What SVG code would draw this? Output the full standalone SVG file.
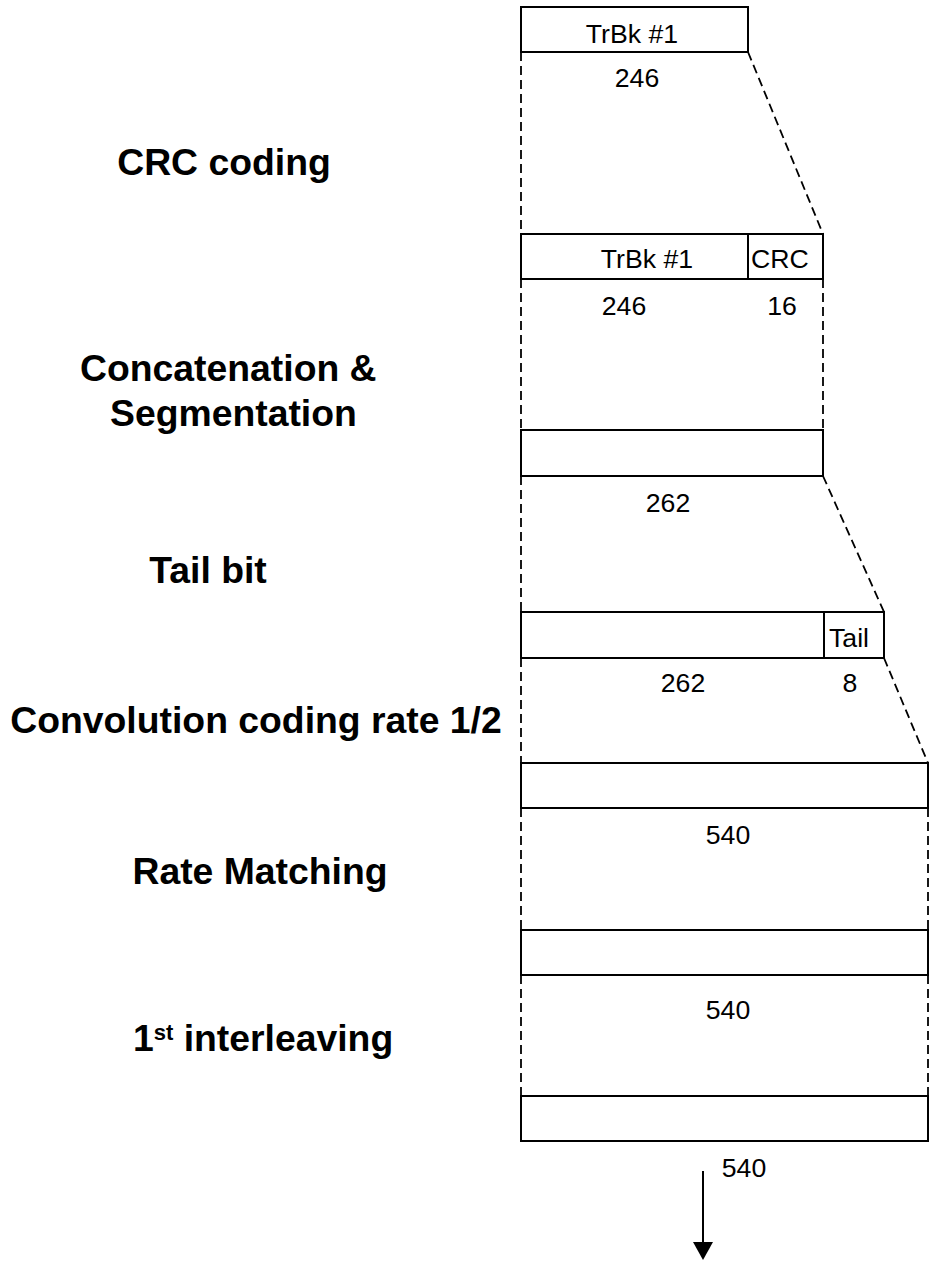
<svg xmlns="http://www.w3.org/2000/svg" width="930" height="1261" viewBox="0 0 930 1261">
<style>
.box{fill:#fff;stroke:#000;stroke-width:2}
.div{stroke:#000;stroke-width:2}
.dash{fill:none;stroke:#000;stroke-width:1.8;stroke-dasharray:9 5}
.t{font-family:"Liberation Sans",Arial,sans-serif;font-size:26.67px;fill:#000}
.lbl{font-family:"Liberation Sans",Arial,sans-serif;font-size:37.33px;font-weight:bold;fill:#000}
.m{text-anchor:middle}
</style>
<g id="connectors">
<line class="dash" x1="521" y1="52" x2="521" y2="234"/>
<line class="dash" x1="748" y1="52" x2="823" y2="234"/>
<line class="dash" x1="521" y1="279" x2="521" y2="430"/>
<line class="dash" x1="823" y1="279" x2="823" y2="430"/>
<line class="dash" x1="521" y1="476" x2="521" y2="612"/>
<line class="dash" x1="823" y1="476" x2="884" y2="612"/>
<line class="dash" x1="521" y1="658" x2="521" y2="763"/>
<line class="dash" x1="884" y1="658" x2="928" y2="763"/>
<line class="dash" x1="521" y1="808" x2="521" y2="930"/>
<line class="dash" x1="928" y1="808" x2="928" y2="930"/>
<line class="dash" x1="521" y1="975" x2="521" y2="1096"/>
<line class="dash" x1="928" y1="975" x2="928" y2="1096"/>
<line x1="703" y1="1171" x2="703" y2="1244" stroke="#000" stroke-width="2"/>
<path d="M693,1242 L713,1242 L703,1260 Z" fill="#000"/>
</g>
<g id="labels">
<text class="lbl m" x="224" y="175">CRC coding</text>
<text class="lbl" x="80" y="381">Concatenation &amp;</text>
<text class="lbl" x="110" y="426">Segmentation</text>
<text class="lbl m" x="208" y="583">Tail bit</text>
<text class="lbl m" x="256" y="733">Convolution coding rate 1/2</text>
<text class="lbl m" x="260" y="884">Rate Matching</text>
<text class="lbl" x="133" y="1051">1<tspan font-size="22" dy="-11">st</tspan><tspan dy="11"> interleaving</tspan></text>
</g>
<g id="block1">
<rect class="box" x="521" y="7" width="227" height="45"/>
<text class="t m" x="632" y="43">TrBk #1</text>
<text class="t m" x="637" y="87">246</text>
</g>
<g id="block2">
<rect class="box" x="521" y="234" width="302" height="45"/>
<line class="div" x1="748" y1="234" x2="748" y2="279"/>
<text class="t m" x="647" y="268">TrBk #1</text>
<text class="t m" x="780" y="268">CRC</text>
<text class="t m" x="624" y="315">246</text>
<text class="t m" x="782" y="315">16</text>
</g>
<g id="block3">
<rect class="box" x="521" y="430" width="302" height="46"/>
<text class="t m" x="668" y="512">262</text>
</g>
<g id="block4">
<rect class="box" x="521" y="612" width="363" height="46"/>
<line class="div" x1="824" y1="612" x2="824" y2="658"/>
<text class="t m" x="849" y="647">Tail</text>
<text class="t m" x="683" y="692">262</text>
<text class="t m" x="850" y="692">8</text>
</g>
<g id="block5">
<rect class="box" x="521" y="763" width="407" height="45"/>
<text class="t m" x="728" y="844">540</text>
</g>
<g id="block6">
<rect class="box" x="521" y="930" width="407" height="45"/>
<text class="t m" x="728" y="1019">540</text>
</g>
<g id="block7">
<rect class="box" x="521" y="1096" width="407" height="45"/>
<text class="t m" x="744" y="1177">540</text>
</g>
</svg>
